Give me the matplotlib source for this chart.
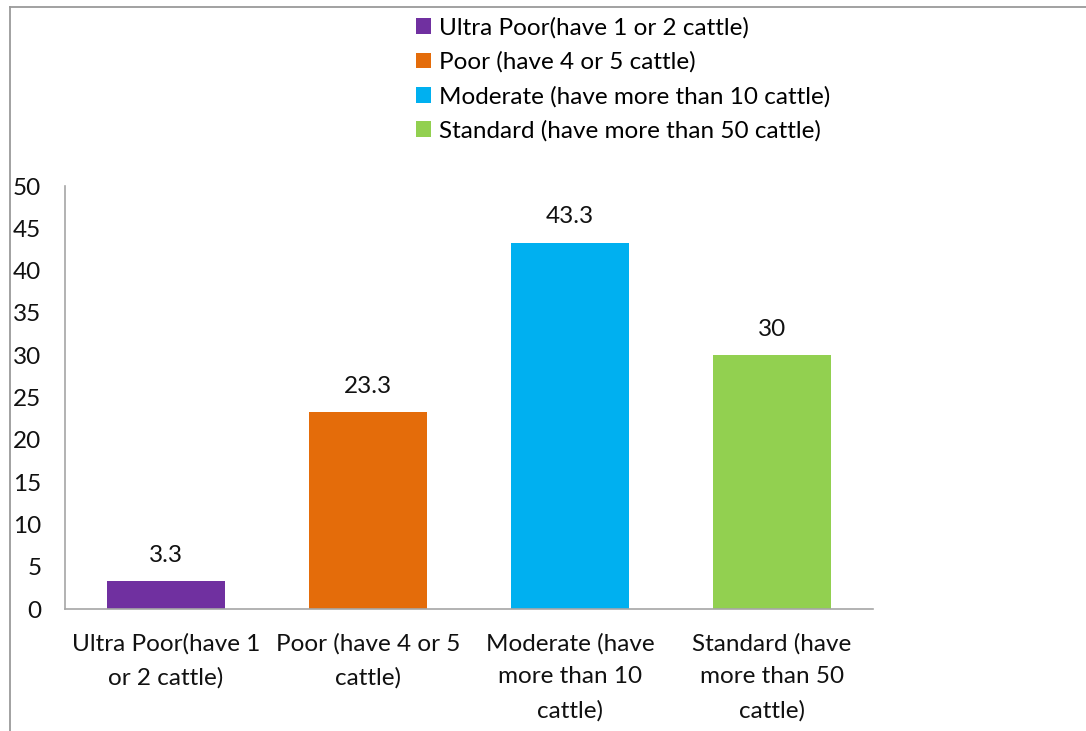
import matplotlib
matplotlib.use("Agg")
import matplotlib.pyplot as plt
from matplotlib.patches import Patch
from matplotlib.lines import Line2D

categories = [
    "Ultra Poor(have 1\nor 2 cattle)",
    "Poor (have 4 or 5\ncattle)",
    "Moderate (have\nmore than 10\ncattle)",
    "Standard (have\nmore than 50\ncattle)",
]
legend_labels = [
    "Ultra Poor(have 1 or 2 cattle)",
    "Poor (have 4 or 5 cattle)",
    "Moderate (have more than 10 cattle)",
    "Standard (have more than 50 cattle)",
]
values = [3.3, 23.3, 43.3, 30]
value_labels = ["3.3", "23.3", "43.3", "30"]
colors = ["#7030A0", "#E46C0A", "#00B0F0", "#92D050"]
yticks = [0, 5, 10, 15, 20, 25, 30, 35, 40, 45, 50]

plt.rcParams["font.family"] = ["Lato", "DejaVu Sans"]
FS = 17.5

W, H = 1086, 731
fig = plt.figure(figsize=(W / 100, H / 100), dpi=100)
ax = fig.add_axes([65 / W, 1 - 609 / H, (873 - 65) / W, (609 - 186) / H])

x = list(range(len(values)))
bars = ax.bar(x, values, width=0.58, color=colors)
for xi, v, lab in zip(x, values, value_labels):
    ax.annotate(lab, (xi, v), xytext=(0, 11), textcoords="offset points",
                ha="center", va="bottom", fontsize=FS, color="#111111")

ax.set_xlim(-0.5, len(values) - 0.5)
ax.set_ylim(0, 50)
ax.set_yticks(yticks)
ax.set_xticks(x)
ax.set_xticklabels(categories, fontsize=FS)
for t in ax.get_xticklabels():
    t.set_linespacing(1.72)
    t.set_color("#111111")
ax.tick_params(axis="x", length=0, pad=17)
ax.tick_params(axis="y", length=0, pad=17, labelsize=FS)
for t in ax.get_yticklabels():
    t.set_color("#111111")
for s in ("top", "right"):
    ax.spines[s].set_visible(False)
for s in ("left", "bottom"):
    ax.spines[s].set_color("#A6A6A6")
    ax.spines[s].set_linewidth(1.2)

handles = [Patch(facecolor=c, edgecolor="none") for c in colors]
fig.legend(handles, legend_labels, loc="upper left",
           bbox_to_anchor=(403 / W, 1 - 4 / H), frameon=False,
           fontsize=FS, handlelength=0.62, handleheight=0.62,
           handletextpad=0.3, labelspacing=0.52, borderpad=0.05)

# outer chart frame (open at the right and bottom)
fig.add_artist(Line2D([9.5 / W, 1.0], [1 - 7 / H, 1 - 7 / H], transform=fig.transFigure,
                      color="#9A9A9A", lw=1.3))
fig.add_artist(Line2D([9.5 / W, 9.5 / W], [0, 1 - 7 / H], transform=fig.transFigure,
                      color="#9A9A9A", lw=1.3))

fig.savefig("out.png", dpi=100, facecolor="white")
